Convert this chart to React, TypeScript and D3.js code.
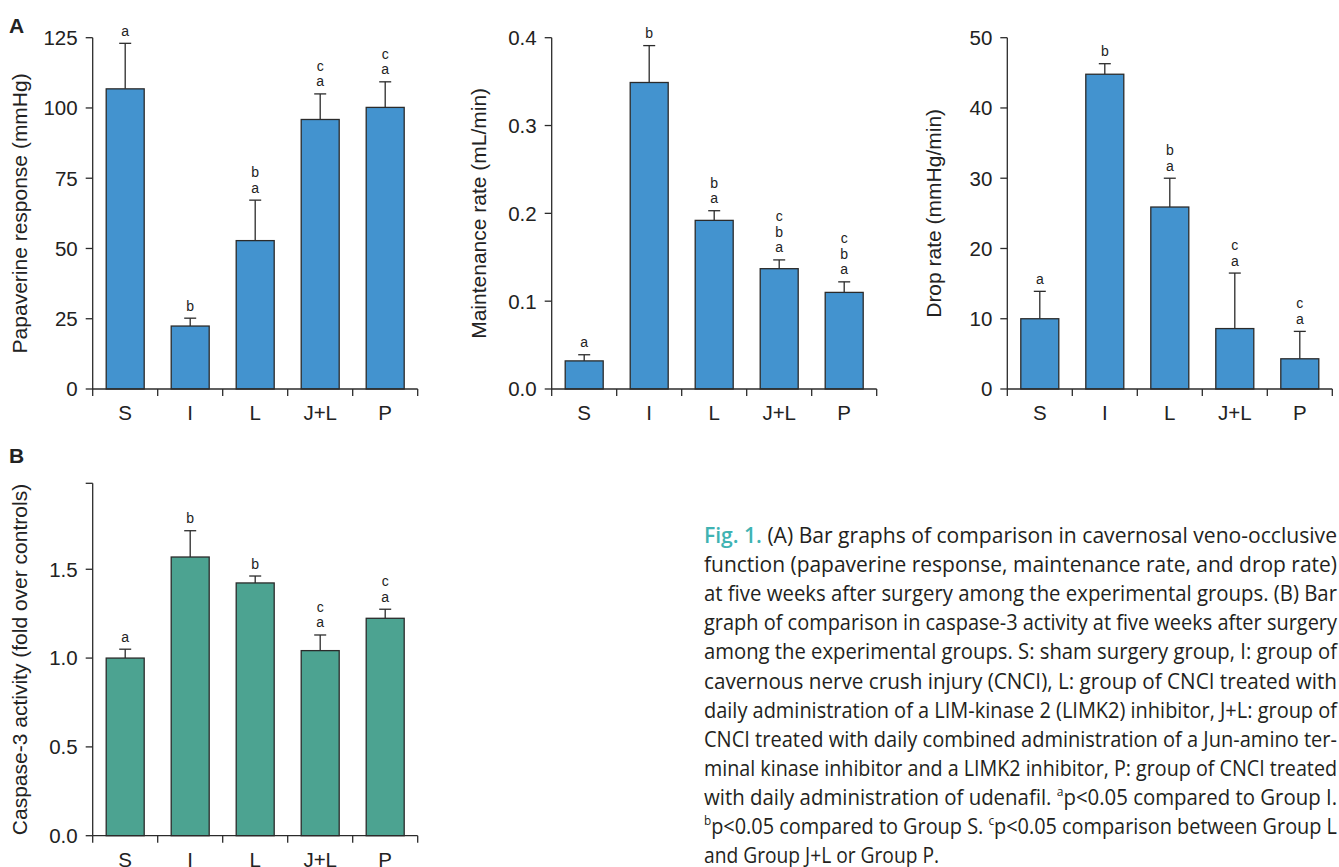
import React from "react";
import * as d3 from "d3";

const categories = ["S", "I", "L", "J+L", "P"];

const papaverine = [106.8, 22.4, 52.8, 95.9, 100.2];
const papaverineSem = [16.2, 2.8, 14.4, 9.1, 9.1];
const papaverineSig = [["a"], ["b"], ["a", "b"], ["a", "c"], ["a", "c"]];
const papaverineTicks = [0, 25, 50, 75, 100, 125];

const maintenance = [0.032, 0.349, 0.192, 0.137, 0.11];
const maintenanceSem = [0.007, 0.042, 0.011, 0.01, 0.012];
const maintenanceSig = [["a"], ["b"], ["a", "b"], ["a", "b", "c"], ["a", "b", "c"]];
const maintenanceTicks = [0, 0.1, 0.2, 0.3, 0.4];

const dropRate = [10.0, 44.8, 25.9, 8.6, 4.3];
const dropRateSem = [3.9, 1.5, 4.1, 7.9, 3.9];
const dropRateSig = [["a"], ["b"], ["a", "b"], ["a", "c"], ["a", "c"]];
const dropRateTicks = [0, 10, 20, 30, 40, 50];

const caspase = [1.0, 1.569, 1.423, 1.042, 1.224];
const caspaseSem = [0.05, 0.148, 0.039, 0.088, 0.051];
const caspaseSig = [["a"], ["b"], ["b"], ["a", "c"], ["a", "c"]];
const caspaseTicks = [0, 0.5, 1.0, 1.5];

const BLUE = "#4393cf";
const TEAL = "#4ca391";
const INK = "#2b2b2b";
const FONT = "'Liberation Sans', Arial, Helvetica, sans-serif";

type PanelProps = {
  x0: number;
  yTop: number;
  yBottom: number;
  domainMax: number;
  ticks: number[];
  fmt: (v: number) => string;
  values: number[];
  sem: number[];
  sig: string[][];
  ylabel: string;
  color: string;
  topTick?: boolean;
};

function Panel(p: PanelProps) {
  const x = d3.scaleBand<string>().domain(categories).range([p.x0, p.x0 + 325]).paddingInner(0).paddingOuter(0);
  const y = d3.scaleLinear().domain([0, p.domainMax]).range([p.yBottom, p.yTop]);
  const bw = 38;
  const bounds = [...categories.map((c) => x(c) as number), p.x0 + 325];
  return (
    <g>
      {categories.map((c, i) => {
        const cx = (x(c) as number) + x.bandwidth() / 2;
        const top = y(p.values[i]);
        const errTop = y(p.values[i] + p.sem[i]);
        return (
          <g key={c}>
            <line x1={cx} x2={cx} y1={top} y2={errTop} stroke={INK} strokeWidth={1.3} />
            <line x1={cx - 6} x2={cx + 6} y1={errTop} y2={errTop} stroke={INK} strokeWidth={1.3} />
            <rect x={cx - bw / 2} y={top} width={bw} height={p.yBottom - top} fill={p.color} stroke={INK} strokeWidth={1.3} />
            {p.sig[i].map((s, k) => (
              <text key={k} x={cx} y={errTop - 7.5 - k * 15.5} textAnchor="middle" fontSize={14} fill="#222" fontFamily={FONT}>
                {s}
              </text>
            ))}
            <text x={cx} y={p.yBottom + 31} textAnchor="middle" fontSize={20.5} fill="#222" fontFamily={FONT}>
              {c}
            </text>
          </g>
        );
      })}
      <line x1={p.x0} x2={p.x0} y1={p.yTop} y2={p.yBottom} stroke={INK} strokeWidth={1.3} />
      <line x1={p.x0} x2={p.x0 + 325} y1={p.yBottom} y2={p.yBottom} stroke={INK} strokeWidth={1.3} />
      {bounds.map((b, i) => (
        <line key={i} x1={b} x2={b} y1={p.yBottom} y2={p.yBottom + 7} stroke={INK} strokeWidth={1.3} />
      ))}
      {p.ticks.map((t) => (
        <g key={t}>
          <line x1={p.x0 - 7} x2={p.x0} y1={y(t)} y2={y(t)} stroke={INK} strokeWidth={1.3} />
          <text x={p.x0 - 15} y={y(t)} dy="0.36em" textAnchor="end" fontSize={20.5} fill="#222" fontFamily={FONT}>
            {p.fmt(t)}
          </text>
        </g>
      ))}
      {p.topTick && <line x1={p.x0 - 7} x2={p.x0} y1={p.yTop} y2={p.yTop} stroke={INK} strokeWidth={1.3} />}
      <text
        transform={`translate(${p.x0 - 73.5},${(p.yTop + p.yBottom) / 2}) rotate(-90)`}
        dy="0.36em"
        textAnchor="middle"
        fontSize={21}
        fill="#222"
        fontFamily={FONT}
      >
        {p.ylabel}
      </text>
    </g>
  );
}

const CAP_FONT = "'Open Sans', 'Noto Sans', sans-serif";
const CAP_X = 704;
const CAP_W = 633;

export default function App() {
  const f0 = d3.format("d");
  const f1 = d3.format(".1f");
  const lineY = (i: number) => 543 + i * 29.1;
  const sup = (s: string) => (
    <tspan fontSize={13} dy={-9}>
      {s}
    </tspan>
  );
  const plainLines = [
    "function (papaverine response, maintenance rate, and drop rate)",
    "at five weeks after surgery among the experimental groups. (B) Bar",
    "graph of comparison in caspase-3 activity at five weeks after surgery",
    "among the experimental groups. S: sham surgery group, I: group of",
    "cavernous nerve crush injury (CNCI), L: group of CNCI treated with",
    "daily administration of a LIM-kinase 2 (LIMK2) inhibitor, J+L: group of",
    "CNCI treated with daily combined administration of a Jun-amino ter-",
    "minal kinase inhibitor and a LIMK2 inhibitor, P: group of CNCI treated",
  ];
  return (
    <svg width={1339} height={867} style={{ position: "absolute", left: 0, top: 0, background: "#fff" }}>
      <text x={9} y={33} fontSize={21} fontWeight="bold" fill="#222" fontFamily={FONT}>A</text>
      <text x={9} y={463} fontSize={21} fontWeight="bold" fill="#222" fontFamily={FONT}>B</text>
      <Panel x0={92.7} yTop={37.7} yBottom={389} domainMax={125} ticks={papaverineTicks} fmt={f0}
        values={papaverine} sem={papaverineSem} sig={papaverineSig} ylabel="Papaverine response (mmHg)" color={BLUE} />
      <Panel x0={551.7} yTop={37.7} yBottom={389} domainMax={0.4} ticks={maintenanceTicks} fmt={f1}
        values={maintenance} sem={maintenanceSem} sig={maintenanceSig} ylabel="Maintenance rate (mL/min)" color={BLUE} />
      <Panel x0={1007.3} yTop={37.7} yBottom={389} domainMax={50} ticks={dropRateTicks} fmt={f0}
        values={dropRate} sem={dropRateSem} sig={dropRateSig} ylabel="Drop rate (mmHg/min)" color={BLUE} />
      <Panel x0={92.7} yTop={483.3} yBottom={835.7} domainMax={1.984} ticks={caspaseTicks} fmt={f1}
        values={caspase} sem={caspaseSem} sig={caspaseSig} ylabel="Caspase-3 activity (fold over controls)" color={TEAL} topTick />

      <g fontFamily={CAP_FONT} fontSize={22} fill="#231f20">
        <text x={CAP_X} y={lineY(0)} textLength={CAP_W} lengthAdjust="spacingAndGlyphs">
          <tspan fill="#3fb3b3" fontWeight={600}>Fig. 1.</tspan> (A) Bar graphs of comparison in cavernosal veno-occlusive
        </text>
        {plainLines.map((l, i) => (
          <text key={i} x={CAP_X} y={lineY(i + 1)} textLength={CAP_W} lengthAdjust="spacingAndGlyphs">
            {l}
          </text>
        ))}
        <text x={CAP_X} y={lineY(9)} textLength={CAP_W} lengthAdjust="spacingAndGlyphs">
          with daily administration of udenafil. {sup("a")}<tspan dy={9}>p&lt;0.05 compared to Group I.</tspan>
        </text>
        <text x={CAP_X} y={lineY(10)} textLength={CAP_W} lengthAdjust="spacingAndGlyphs">
          {sup("b")}<tspan dy={9}>p&lt;0.05 compared to Group S. </tspan>{sup("c")}<tspan dy={9}>p&lt;0.05 comparison between Group L</tspan>
        </text>
        <text x={CAP_X} y={lineY(11)} textLength={235} lengthAdjust="spacingAndGlyphs">
          and Group J+L or Group P.
        </text>
      </g>
    </svg>
  );
}
